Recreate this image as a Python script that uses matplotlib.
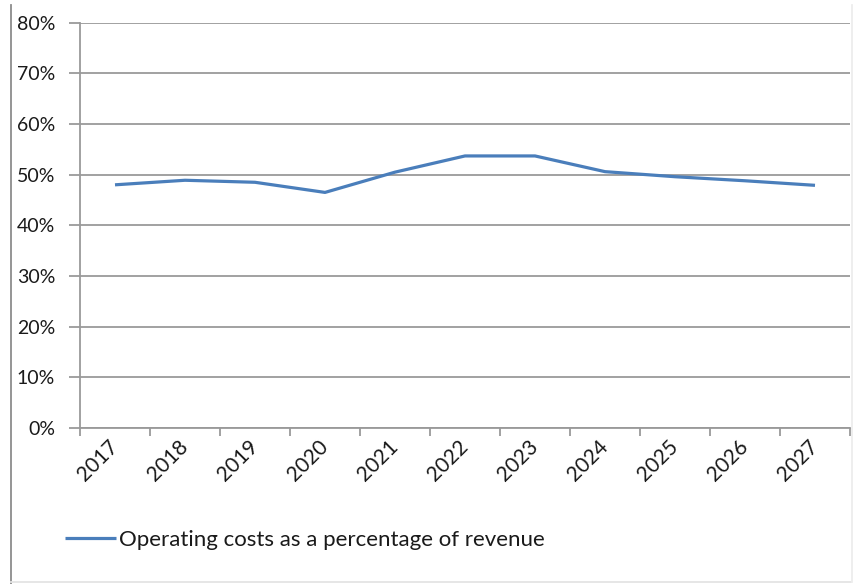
import matplotlib
matplotlib.use("Agg")
import matplotlib.pyplot as plt
from matplotlib.lines import Line2D
from matplotlib.ticker import FuncFormatter, FixedLocator

years = ["2017", "2018", "2019", "2020", "2021", "2022",
         "2023", "2024", "2025", "2026", "2027"]
cost_pct = [48.0, 48.9, 48.5, 46.5, 50.5, 53.7,
            53.7, 50.6, 49.6, 48.8, 47.9]
series_name = "Operating costs as a percentage of revenue"

W, H = 859, 584
plt.rcParams["font.family"] = ["Lato", "DejaVu Sans"]
text_color = "#1a1a1a"

fig = plt.figure(figsize=(W / 100, H / 100), dpi=100)
ax = fig.add_axes([80 / W, (H - 428) / H, 770 / W, 405.3 / H])

x = list(range(len(years)))
line, = ax.plot(x, cost_pct, color="#4a7ebb", lw=2.3,
                solid_joinstyle="round", solid_capstyle="butt")

ax.set_xlim(-0.5, len(years) - 0.5)
ax.set_ylim(0, 80)
ax.set_yticks(range(0, 81, 10))
ax.yaxis.set_major_formatter(FuncFormatter(lambda v, p: f"{v:.0f}%"))
ax.yaxis.grid(True, color="#9a9a9a", lw=1.3)
ax.set_axisbelow(True)

# category ticks sit between categories, labels at centres
ax.xaxis.set_major_locator(FixedLocator([i - 0.5 for i in range(len(years) + 1)]))
ax.xaxis.set_major_formatter(FuncFormatter(lambda v, p: ""))
ax.xaxis.set_minor_locator(FixedLocator(x))
ax.set_xticklabels(years, minor=True)
ax.tick_params(axis="x", which="minor", length=0, pad=11, labelsize=15,
               labelcolor=text_color)
ax.tick_params(axis="x", which="major", length=6, width=1.3, color="#9a9a9a")
for lab in ax.get_xticklabels(minor=True):
    lab.set_rotation(45)
    lab.set_ha("right")
    lab.set_va("center")
    lab.set_rotation_mode("anchor")

ax.tick_params(axis="y", length=8, width=1.3, color="#9a9a9a", pad=10,
               labelsize=14, labelcolor=text_color)

for s in ["top", "right"]:
    ax.spines[s].set_visible(False)
for s in ["left", "bottom"]:
    ax.spines[s].set_color("#9a9a9a")
    ax.spines[s].set_linewidth(1.3)

fig.legend([line], [series_name], loc="center left",
           bbox_to_anchor=(65 / W, (H - 540) / H), frameon=False,
           fontsize=16, handlelength=2.3, handletextpad=0.12,
           borderaxespad=0, borderpad=0, labelcolor=text_color)

# chart frame
fig.add_artist(Line2D([11 / W, 11 / W], [0, 1 - 5 / H],
                      transform=fig.transFigure, color="#8c8c8c", lw=1.3))
fig.add_artist(Line2D([11 / W, 851 / W], [2 / H, 2 / H],
                      transform=fig.transFigure, color="#e4e4e4", lw=1.3))
fig.add_artist(Line2D([852 / W, 852 / W], [2 / H, 1 - 5 / H],
                      transform=fig.transFigure, color="#ededed", lw=1.3))

fig.savefig("out.png", dpi=100)
